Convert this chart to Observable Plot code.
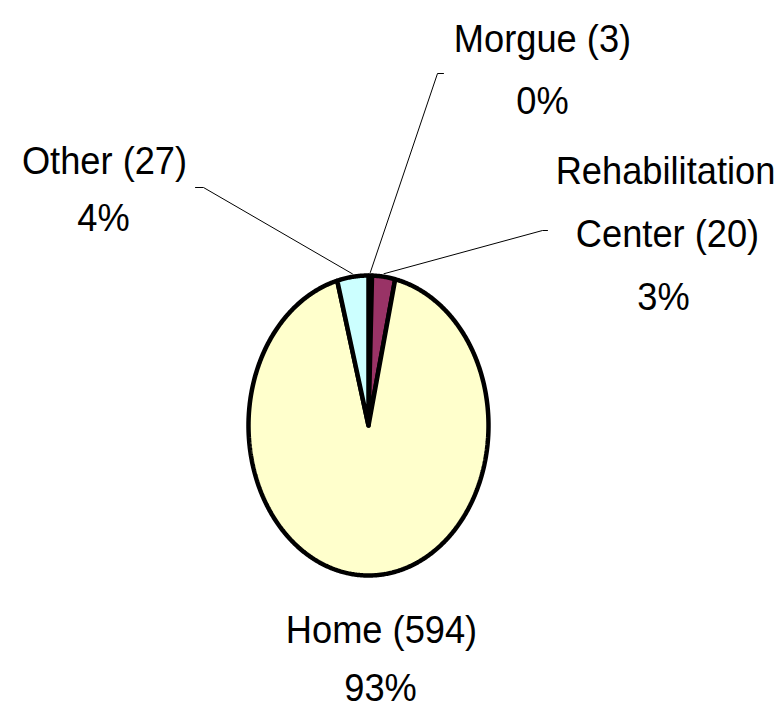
<!DOCTYPE html>
<html><head><meta charset="utf-8">
<script src="https://cdn.jsdelivr.net/npm/d3@7"></script>
<script src="https://cdn.jsdelivr.net/npm/@observablehq/plot@0.6"></script>
<style>html,body{margin:0;padding:0;background:#fff;} #chart svg{display:block}</style>
</head><body><div id="chart"></div>
<script>
// ---- data ----
const categories = ["Morgue", "Rehabilitation Center", "Home", "Other"];
const values = [3, 20, 594, 27];
const percentLabels = ["0%", "3%", "93%", "4%"];
const colors = ["#9999FF", "#993366", "#FFFFCC", "#CCFFFF"];

// ---- layout ----
const W = 781, H = 710;
const CX = 368, CY = 425, RX = 120, RY = 150;
const FS = 39, SX = 0.93;
const toX = px => (px - CX) / RX;
const toY = py => (CY - py) / RY;
const layout = {
  "Morgue": {x: [542, 542], base: [51, 113], elbow: [437, 73], end: [443, 73]},
  "Rehabilitation Center": {x: [665, 667, 663], base: [183, 246, 309], elbow: [542, 230], end: [547, 230]},
  "Home": {x: [381, 380], base: [642, 700]},
  "Other": {x: [104, 103], base: [173, 230], elbow: [203, 187], end: [195, 187]}
};

const pie = d3.pie().sort(null).startAngle(0).endAngle(2 * Math.PI)(values);

const slicePts = [];
const leaders = [];
const labelRows = [];
pie.forEach((p, i) => {
  const name = categories[i];
  slicePts.push({name, x: 0, y: 0});
  const n = Math.max(2, Math.ceil((p.endAngle - p.startAngle) / (Math.PI / 360)));
  for (let k = 0; k <= n; k++) {
    const a = p.startAngle + (p.endAngle - p.startAngle) * k / n;
    slicePts.push({name, x: Math.sin(a), y: Math.cos(a)});
  }
  slicePts.push({name, x: 0, y: 0});

  const L = layout[name];
  const mid = (p.startAngle + p.endAngle) / 2;
  if (L.elbow) {
    leaders.push({name, x: 1.02 * Math.sin(mid), y: 1.02 * Math.cos(mid)});
    leaders.push({name, x: toX(L.elbow[0]), y: toY(L.elbow[1])});
    leaders.push({name, x: toX(L.end[0]), y: toY(L.end[1])});
  }
  const words = name.split(" ");
  const lines = [];
  if (words.length > 1) {
    lines.push(words[0]);
    lines.push(words.slice(1).join(" ") + " (" + values[i] + ")");
  } else {
    lines.push(name + " (" + values[i] + ")");
  }
  lines.push(percentLabels[i]);
  lines.forEach((t, j) => {
    labelRows.push({text: t, x: toX(L.x[j]), y: toY(L.base[j] - 0.32 * FS)});
  });
});

const chart = Plot.plot({
  width: W, height: H, margin: 0,
  x: {domain: [-1, 1], range: [CX - RX, CX + RX], axis: null},
  y: {domain: [-1, 1], range: [CY + RY, CY - RY], axis: null},
  color: {domain: categories, range: colors},
  style: {fontFamily: "'Liberation Sans', Arial, sans-serif", background: "#fff"},
  marks: [
    Plot.line(leaders, {x: "x", y: "y", z: "name", stroke: "black", strokeWidth: 1, curve: "linear", strokeLinejoin: "miter"}),
    Plot.line(slicePts, {x: "x", y: "y", z: "name", fill: "name", stroke: "black", strokeWidth: 4.5, curve: "linear", strokeLinejoin: "miter"}),
    Plot.text(labelRows, {x: "x", y: "y", text: "text", fontSize: FS, textAnchor: "middle", fill: "black"})
  ]
});
// narrow the label glyphs horizontally (reference font is slightly condensed)
chart.querySelectorAll('g[aria-label="text"] text').forEach(t => {
  const tr = t.getAttribute("transform");
  if (tr) {
    t.setAttribute("transform", tr + ` scale(${SX},1)`);
  } else {
    const x = +t.getAttribute("x") || 0, y = +t.getAttribute("y") || 0;
    t.setAttribute("x", 0); t.setAttribute("y", 0);
    t.setAttribute("transform", `translate(${x},${y}) scale(${SX},1)`);
  }
});
document.getElementById("chart").appendChild(chart);
</script>
</body></html>
